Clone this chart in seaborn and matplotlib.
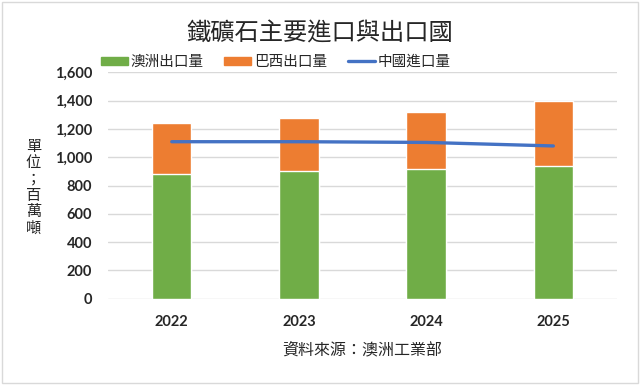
import numpy as np
import pandas as pd
import matplotlib
matplotlib.use("Agg")
import matplotlib.pyplot as plt
from matplotlib.patches import Patch, Rectangle
from matplotlib.lines import Line2D
import seaborn as sns

# data (million tonnes)
years = ["2022", "2023", "2024", "2025"]
australia_export = [880, 900, 920, 940]
brazil_export = [360, 380, 400, 460]
china_import = [1110, 1110, 1105, 1080]

sns.set_style("white")
plt.rcParams["font.family"] = ["Noto Sans CJK TC", "DejaVu Sans"]

green = "#70AD47"
orange = "#ED7D31"
blue = "#4472C4"

df = pd.DataFrame({
    "year": years,
    "aus": australia_export,
    "total": np.array(australia_export) + np.array(brazil_export),
    "china": china_import,
})

fig = plt.figure(figsize=(6.4, 3.85), dpi=100)
ax = fig.add_axes([0.169, 0.224, 0.795, 0.588])

# stacked bars: orange total behind, green on top
sns.barplot(data=df, x="year", y="total", color=orange, width=0.31,
            saturation=1, ax=ax, zorder=2)
sns.barplot(data=df, x="year", y="aus", color=green, width=0.31,
            saturation=1, ax=ax, zorder=3)
sns.lineplot(x=np.arange(len(years)), y=df["china"], color=blue,
             linewidth=2.4, ax=ax, zorder=4)

ax.set_ylim(0, 1600)
ax.set_xlim(-0.5, 3.5)
ax.set_yticks(range(0, 1601, 200))
ax.set_yticklabels([f"{v:,}" for v in range(0, 1601, 200)])
ax.grid(axis="y", color="#D9D9D9", linewidth=1, zorder=0)
ax.set_axisbelow(True)
for s in ax.spines.values():
    s.set_visible(False)
ax.tick_params(length=0)
ax.tick_params(axis="y", pad=11.5)
ax.tick_params(axis="x", pad=12)
for lab in ax.get_xticklabels() + ax.get_yticklabels():
    lab.set_fontfamily(["Lato", "DejaVu Sans"])
    lab.set_fontweight("bold")
    lab.set_fontsize(10.5)
ax.set_xlabel("")
ax.set_ylabel("")

fig.text(0.5, 0.914, "鐵礦石主要進口與出口國", ha="center", va="center",
         fontsize=17.5)
fig.text(0.052, 0.514, "\n".join("單位；百萬噸"), ha="center", va="center",
         fontsize=11, linespacing=0.95)
fig.text(0.566, 0.091, "資料來源：澳洲工業部", ha="center", va="center",
         fontsize=11.5)

handles = [Patch(color=green), Patch(color=orange),
           Line2D([0], [0], color=blue, linewidth=2.4)]
fig.legend(handles, ["澳洲出口量", "巴西出口量", "中國進口量"],
           loc="center", bbox_to_anchor=(0.431, 0.839), ncol=3, frameon=False,
           fontsize=10.5, handlelength=1.85, handleheight=0.5,
           handletextpad=0.2, columnspacing=1.4, borderpad=0)

fig.patches.append(Rectangle((0.003, 0.006), 0.994, 0.99, transform=fig.transFigure,
                             fill=False, edgecolor="#D9D9D9", linewidth=1))

fig.savefig("out.png", dpi=100)
